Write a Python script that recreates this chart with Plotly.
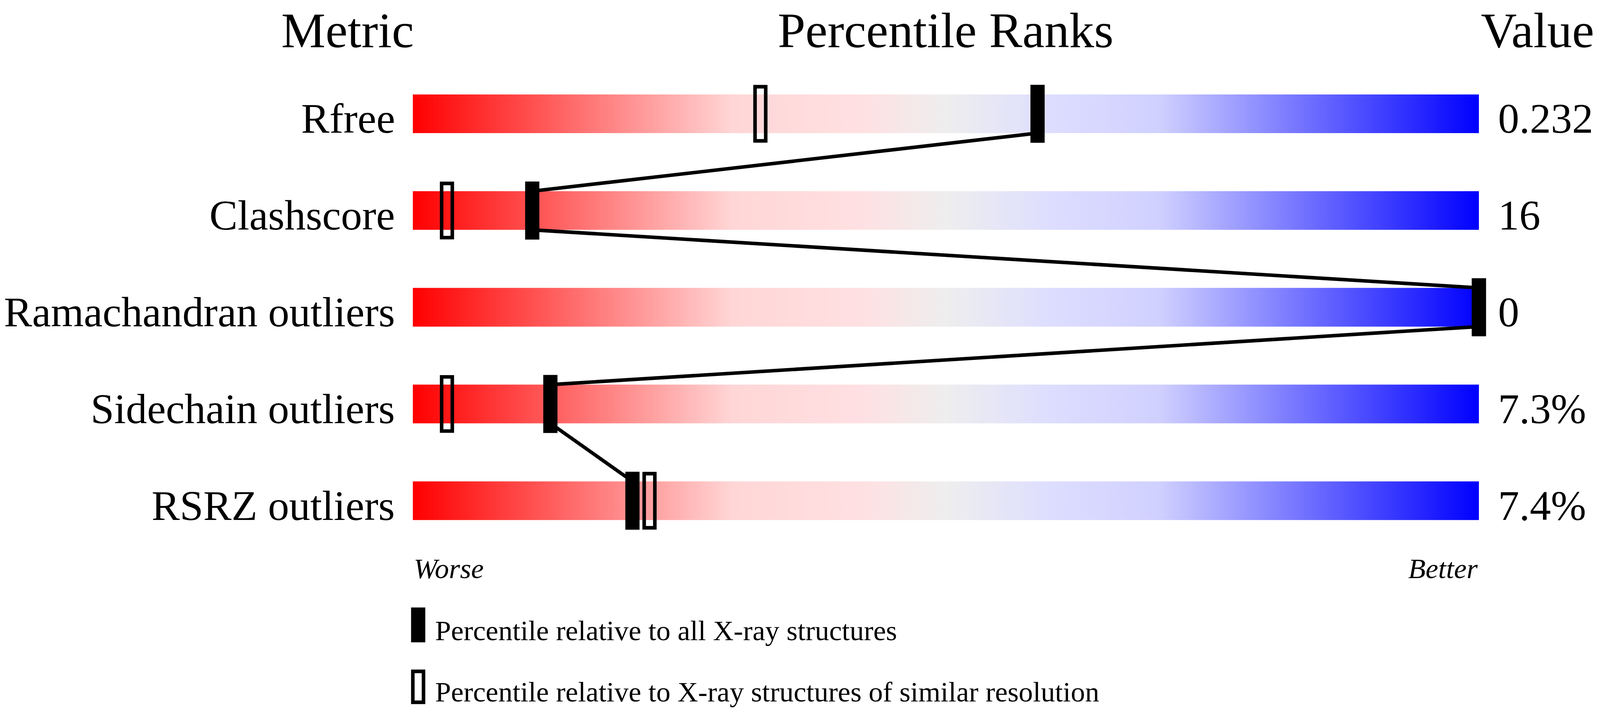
import plotly.graph_objects as go

# ---- data ----
metrics = ["Rfree", "Clashscore", "Ramachandran outliers", "Sidechain outliers", "RSRZ outliers"]
value_labels = ["0.232", "16", "0", "7.3%", "7.4%"]
pct_all = [58.6, 11.2, 100.0, 12.9, 20.6]      # percentile relative to all X-ray structures
pct_similar = [32.6, 3.2, 100.0, 3.2, 22.2]    # percentile relative to similar resolution
legend_labels = ["Percentile relative to all X-ray structures",
                 "Percentile relative to X-ray structures of similar resolution"]
headers = ["Metric", "Percentile Ranks", "Value"]
scale_ends = ["Worse", "Better"]

# ---- styling ----
# design grid is 4485 x 1824; the figure fills the browser viewport, whose CSS
# width is ~0.91 of that, so absolute pixel sizes are scaled by K.
W, H = 4485, 1824
K = 0.91
FONT = "Liberation Serif, Times New Roman, serif"
colorscale = [
    [0.00, "rgb(255,0,0)"],
    [0.30, "rgb(255,214,214)"],
    [0.42, "rgb(255,224,226)"],
    [0.50, "rgb(238,238,238)"],
    [0.60, "rgb(221,221,255)"],
    [0.70, "rgb(208,208,255)"],
    [1.00, "rgb(0,0,255)"],
]
BAR_H = 0.2       # half height of slider bar (rows are 1 unit apart)
MARK_H = 0.3      # half height of markers
rows = list(range(len(metrics)))

# axis mapping on the design grid: 0..100 -> px 1153..4153 ; row 0 centre at px 286, 250 px per row
px_per_x = 30.0
x_left_px = 1153.0
xr = [-x_left_px / px_per_x, (W - x_left_px) / px_per_x]
row0_px, px_per_row = 286.0, 250.0
yr = [(H - row0_px) / px_per_row, -row0_px / px_per_row]


def xp(px):
    return (px - x_left_px) / px_per_x


def yp(py):
    return (py - row0_px) / px_per_row


fig = go.Figure()

# gradient sliders
for r in rows:
    fig.add_trace(go.Scatter(
        x=[0, 100, 100, 0, 0],
        y=[r - BAR_H, r - BAR_H, r + BAR_H, r + BAR_H, r - BAR_H],
        mode="lines", line=dict(width=0),
        fill="toself",
        fillgradient=dict(type="horizontal", colorscale=colorscale, start=0, stop=100),
        hoverinfo="skip", showlegend=False,
    ))

# connecting line through the "all structures" markers
lx, ly = [], []
for r, p in zip(rows, pct_all):
    lx += [p, p]
    ly += [r - BAR_H, r + BAR_H]
fig.add_trace(go.Scatter(x=lx[1:-1], y=ly[1:-1], mode="lines",
                         line=dict(color="black", width=10 * K),
                         hoverinfo="skip", showlegend=False))

FW = 20 * K          # half width of filled marker
HW = 15 * K          # half width of hollow marker path
SW = 10 * K          # hollow stroke width

shapes = []
# hollow markers (similar resolution) first, then filled on top
for r, p in zip(rows, pct_similar):
    shapes.append(dict(type="rect", xref="x", yref="y", xsizemode="pixel", xanchor=p,
                       x0=-HW, x1=HW, y0=r - MARK_H + 0.02, y1=r + MARK_H - 0.02,
                       line=dict(color="black", width=SW), fillcolor="rgba(0,0,0,0)",
                       layer="above"))
for r, p in zip(rows, pct_all):
    shapes.append(dict(type="rect", xref="x", yref="y", xsizemode="pixel", xanchor=p,
                       x0=-FW, x1=FW, y0=r - MARK_H, y1=r + MARK_H,
                       line=dict(width=0), fillcolor="black", layer="above"))

# legend swatches
leg_y = [(yp(1562), yp(1652)), (yp(1722), yp(1812))]
lx_anchor = xp(1168)
shapes.append(dict(type="rect", xref="x", yref="y", xsizemode="pixel", xanchor=lx_anchor,
                   x0=-FW, x1=FW, y0=leg_y[0][0], y1=leg_y[0][1],
                   line=dict(width=0), fillcolor="black"))
shapes.append(dict(type="rect", xref="x", yref="y", xsizemode="pixel", xanchor=lx_anchor,
                   x0=-HW, x1=HW, y0=leg_y[1][0] + 0.02, y1=leg_y[1][1] - 0.02,
                   line=dict(color="black", width=SW), fillcolor="rgba(0,0,0,0)"))

ann = []


def text(x, y, s, size, xanchor="left", italic=False):
    ann.append(dict(x=x, y=y, xref="x", yref="y", text=s, showarrow=False,
                    xanchor=xanchor, yanchor="middle",
                    font=dict(family=FONT, size=size * K, color="black",
                              style="italic" if italic else "normal")))


# headers
hdr_y = yp(115 - 0.316 * 140)
text(xp(970), hdr_y, headers[0], 140, "center")
text(50, hdr_y, headers[1], 140, "center")
text(xp(W - 6), hdr_y, headers[2], 140, "right")

# row labels and values
LAB = 119
lab_off = (50 - 0.316 * LAB) / px_per_row
for r, m, v in zip(rows, metrics, value_labels):
    text(xp(1105), r + lab_off, m, LAB, "right")
    text(xp(4205), r + lab_off, v, LAB, "left")

# worse / better
wb_y = yp(1487 - 0.316 * 80)
text(0, wb_y, scale_ends[0], 80, "left", italic=True)
text(100, wb_y, scale_ends[1], 80, "right", italic=True)

# legend texts
text(xp(1214), yp(1647 - 0.316 * 80), legend_labels[0], 80, "left")
text(xp(1214), yp(1805 - 0.316 * 80), legend_labels[1], 80, "left")

fig.update_layout(
    autosize=True,
    margin=dict(l=0, r=0, t=0, b=0, pad=0),
    paper_bgcolor="white", plot_bgcolor="white",
    showlegend=False,
    xaxis=dict(range=xr, visible=False, fixedrange=True),
    yaxis=dict(range=yr, visible=False, fixedrange=True),
    shapes=shapes, annotations=ann,
)

fig.write_html("out.html", config={"displayModeBar": False},
               default_width="100%", default_height="calc(100vh - 16px)")
